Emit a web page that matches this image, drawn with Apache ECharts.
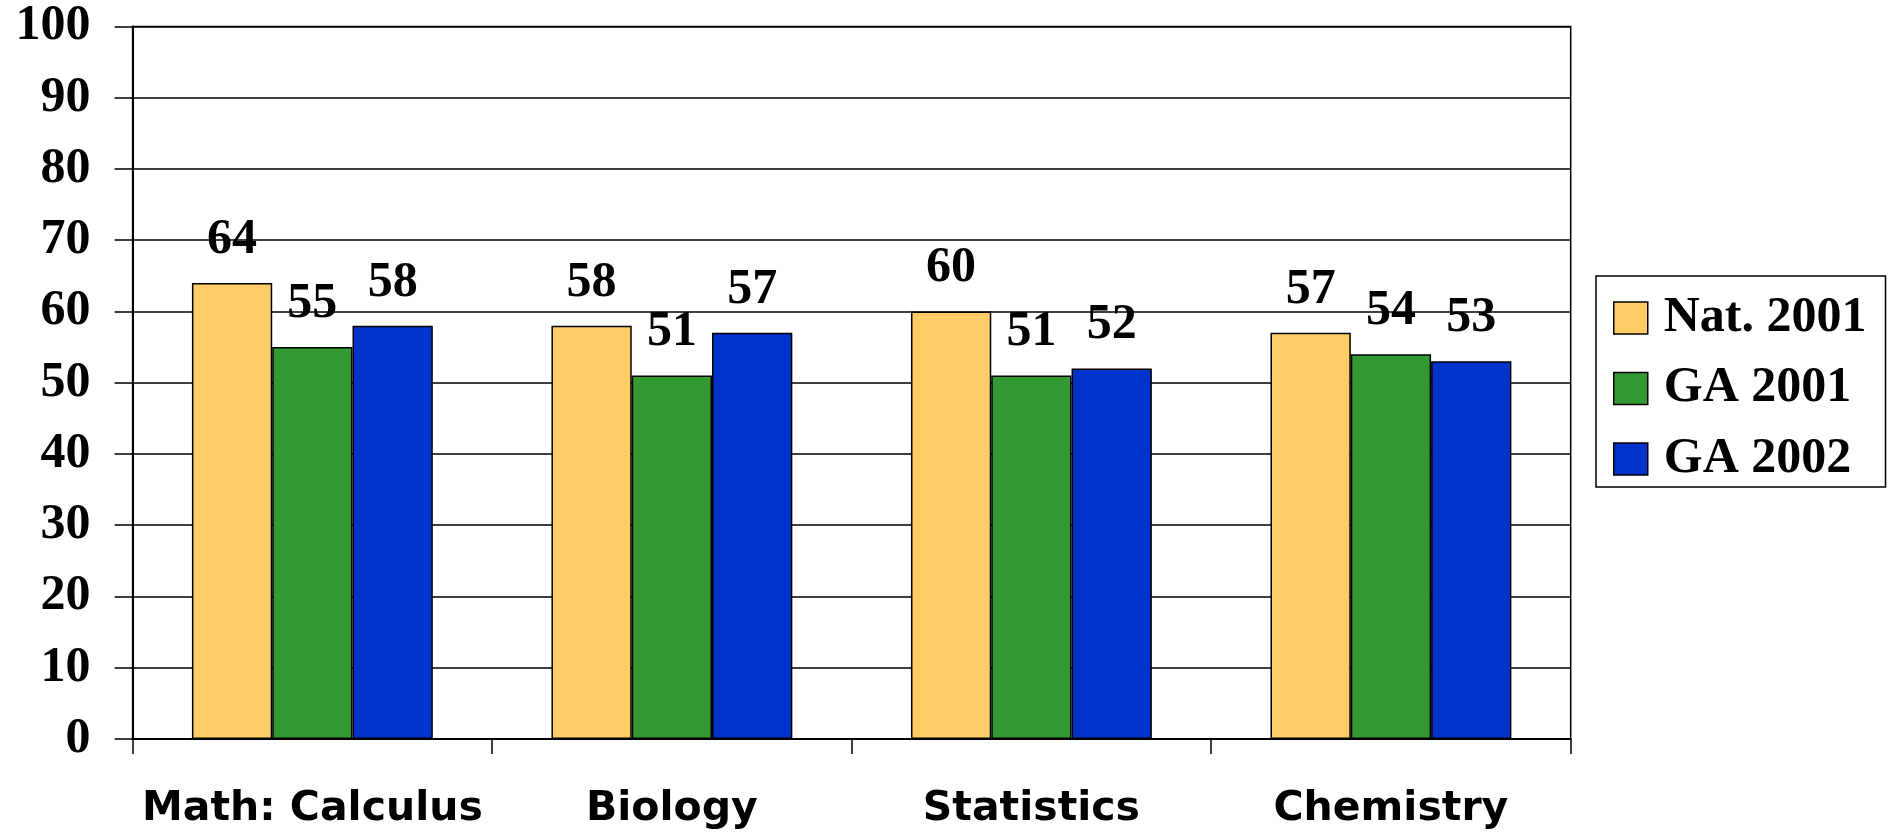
<!DOCTYPE html>
<html>
<head>
<meta charset="utf-8">
<script src="https://cdn.jsdelivr.net/npm/echarts@6/dist/echarts.min.js"></script>
<style>
  html, body { margin: 0; padding: 0; background: #fff; }
  #chart { width: 1890px; height: 834px; }
</style>
</head>
<body>
<div id="chart"></div>
<script>
// Subjects along the x axis
const categories = ['Math: Calculus', 'Biology', 'Statistics', 'Chemistry'];

// Scores per group
const nat2001 = [64, 58, 60, 57];
const ga2001 = [55, 51, 51, 54];
const ga2002 = [58, 57, 52, 53];

const seriesNames = ['Nat. 2001', 'GA 2001', 'GA 2002'];
const seriesColors = ['#FFCC66', '#339933', '#0033CC'];

const serifBold = {
  fontFamily: '"Liberation Serif", "Times New Roman", serif',
  fontWeight: 'bold',
  fontSize: 50,
  color: '#000'
};

function barSeries(name, data, color) {
  return {
    name: name,
    type: 'bar',
    data: data,
    barGap: '0%',
    barCategoryGap: '33%',
    itemStyle: { color: color, borderColor: '#000', borderWidth: 1.5 },
    label: {
      show: true,
      position: 'top',
      distance: 18,
      lineHeight: 50,
      ...serifBold
    },
    emphasis: { disabled: true }
  };
}

const chart = echarts.init(document.getElementById('chart'), null, { renderer: 'canvas' });
chart.setOption({
  animation: false,
  backgroundColor: '#fff',
  grid: {
    left: 132.6,
    right: 319.3,
    top: 26.5,
    bottom: 95.1,
    show: true,
    borderColor: '#000',
    borderWidth: 1.5
  },
  legend: {
    orient: 'vertical',
    left: 1596,
    top: 276,
    data: seriesNames,
    icon: 'rect',
    itemWidth: 34,
    itemHeight: 32,
    itemGap: 20.5,
    padding: [17, 19, 3, 17],
    borderColor: '#000',
    borderWidth: 1.5,
    backgroundColor: '#fff',
    itemStyle: { borderColor: '#000', borderWidth: 1.5 },
    textStyle: { ...serifBold, lineHeight: 50, padding: [0, 0, 0, 11] },
    selectedMode: false
  },
  xAxis: {
    type: 'category',
    data: categories,
    axisLine: { lineStyle: { color: '#000', width: 2 } },
    axisTick: { show: true, interval: 0, length: 15, lineStyle: { color: '#000', width: 1.5 } },
    axisLabel: {
      interval: 0,
      margin: 50,
      fontFamily: '"DejaVu Sans", Verdana, sans-serif',
      fontWeight: 'bold',
      fontSize: 41,
      lineHeight: 41,
      color: '#000'
    }
  },
  yAxis: {
    type: 'value',
    min: 0,
    max: 100,
    interval: 10,
    axisLine: { show: true, lineStyle: { color: '#000', width: 2 } },
    axisTick: { show: true, length: 18, lineStyle: { color: '#000', width: 1.5 } },
    splitLine: { lineStyle: { color: '#000', width: 1.5 } },
    axisLabel: { margin: 42, ...serifBold }
  },
  series: [
    barSeries(seriesNames[0], nat2001, seriesColors[0]),
    barSeries(seriesNames[1], ga2001, seriesColors[1]),
    barSeries(seriesNames[2], ga2002, seriesColors[2])
  ]
});
</script>
</body>
</html>
